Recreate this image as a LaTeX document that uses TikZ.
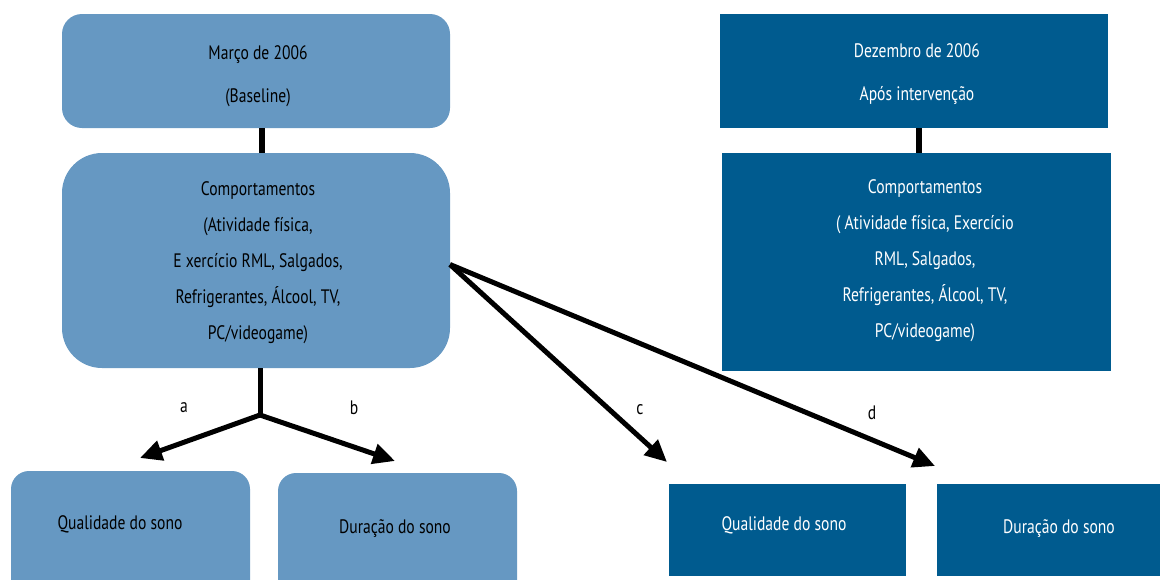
\documentclass[tikz,border=0pt]{standalone}
\usepackage{fontspec}
\setmainfont{PT Sans}[FakeStretch=0.8]
\usetikzlibrary{arrows.meta}
\definecolor{lightc}{RGB}{102,152,194}
\definecolor{darkc}{RGB}{0,91,143}
\begin{document}
\begin{tikzpicture}[x=1pt,y=-1pt,
  lbox/.style={fill=lightc,draw=none,inner sep=0pt,outer sep=0pt},
  dbox/.style={fill=darkc,draw=none,inner sep=0pt,outer sep=0pt},
  txt/.style={inner sep=0pt,align=center,font=\fontsize{19.5}{22}\selectfont},
  wtxt/.style={txt,text=white},
  conn/.style={line width=6pt,black},
  arr/.style={line width=5pt,black,-{Triangle[length=22pt,width=20pt]}},
  lbl/.style={inner sep=0pt,font=\fontsize{19.5}{22}\selectfont}]
\useasboundingbox (0,0) rectangle (1160,579);
% left column
\node[lbox,minimum width=388pt,minimum height=114pt,rounded corners=20pt] (m1) at (256,71) {};
\node[txt,font=\fontsize{19.5}{43}\selectfont] (m1t) at (258,76) {Março de 2006\\(Baseline)};
\node[lbox,minimum width=388pt,minimum height=215pt,rounded corners=40pt] (b1) at (256,260.5) {};
\node[txt,font=\fontsize{19.5}{36}\selectfont] (b1t) at (258,263)
  {Comportamentos\\(Atividade física,\\E xercício RML, Salgados,\\Refrigerantes, Álcool, TV,\\PC/videogame)};
\node[lbox,minimum width=239pt,minimum height=140pt,rounded corners=18pt] (q1) at (130.5,541) {};
\node[txt] (q1t) at (120,524) {Qualidade do sono};
\node[lbox,minimum width=239pt,minimum height=138pt,rounded corners=18pt] (d1) at (397.5,542) {};
\node[txt] (d1t) at (395,529) {Duração do sono};
% right column
\node[dbox,minimum width=388pt,minimum height=114pt] (m2) at (914,71) {};
\node[wtxt,font=\fontsize{19.5}{43}\selectfont] (m2t) at (917,74) {Dezembro de 2006\\Após intervenção};
\node[dbox,minimum width=389pt,minimum height=218pt] (b2) at (916.5,262) {};
\node[wtxt,font=\fontsize{19.5}{36}\selectfont] (b2t) at (925,261)
  {Comportamentos\\( Atividade física, Exercício\\RML, Salgados,\\Refrigerantes, Álcool, TV,\\PC/videogame)};
\node[dbox,minimum width=237pt,minimum height=92pt] (q2) at (787.5,530) {};
\node[wtxt] (q2t) at (784,525) {Qualidade do sono};
\node[dbox,minimum width=240pt,minimum height=92pt] (d2) at (1057,530) {};
\node[wtxt] (d2t) at (1059,529) {Duração do sono};
% connectors
\coordinate (cl) at (262,140);
\coordinate (cr) at (919,140);
\draw[conn] (m1.south -| cl) -- (b1.north -| cl);
\draw[conn] (m2.south -| cr) -- (b2.north -| cr);
\coordinate (j) at (260,415);
\coordinate (ta) at (140,458);
\coordinate (tb) at (395,461);
\coordinate (tc) at (667,462);
\coordinate (td) at (935,466);
\draw[conn,line width=5pt] (b1.south -| j) -- ([yshift=-2pt]j);
\draw[arr] (j) -- (ta);
\draw[arr] (j) -- (tb);
\draw[arr] ([yshift=-4pt]b1.east) -- (tc);
\draw[arr] ([yshift=-4pt]b1.east) -- (td);
% labels
\node[lbl] (la) at (184,408) {a};
\node[lbl] (lb) at (354,408) {b};
\node[lbl] (lc) at (640,410) {c};
\node[lbl] (ld) at (872,413) {d};
\end{tikzpicture}
\end{document}
